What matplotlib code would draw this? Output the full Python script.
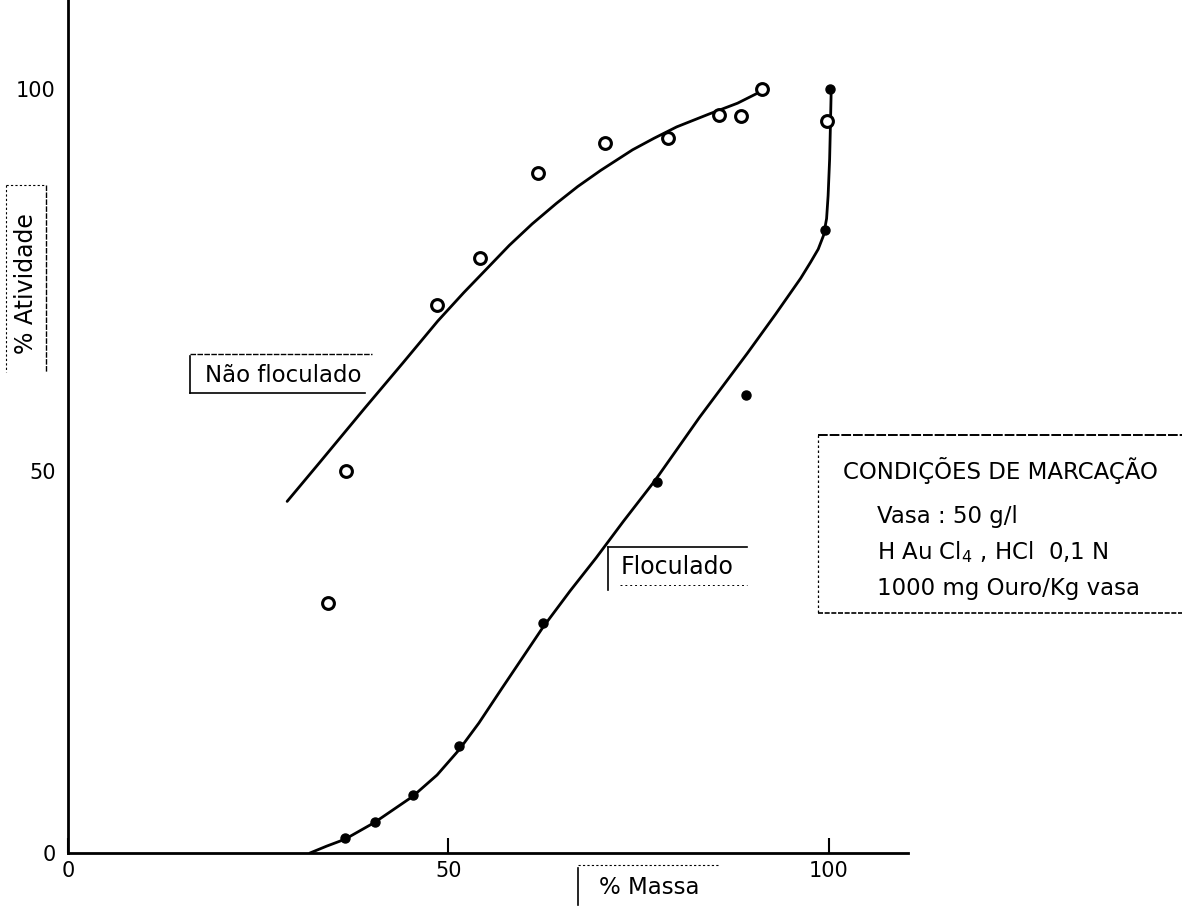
import matplotlib
matplotlib.use("Agg")
import matplotlib.pyplot as plt

# ---- data ----
nf_x = [34.2, 36.5, 48.5, 54.1, 61.8, 70.6, 78.9, 85.5, 88.4, 91.2, 99.7]
nf_y = [32.7, 50.0, 71.7, 77.9, 89.0, 92.9, 93.6, 96.5, 96.4, 100.0, 95.8]

fl_x = [36.4, 40.3, 45.3, 51.4, 62.4, 77.4, 89.1, 99.5, 100.1]
fl_y = [2.0, 4.1, 7.6, 14.0, 30.1, 48.6, 59.9, 81.5, 100.0]

nf_curve_x = [28.8, 33.0, 39.0, 44.0, 48.6, 52.0, 55.1, 58.0, 61.0, 64.2, 67.0, 70.0, 74.2,
              77.0, 80.0, 84.3, 88.0, 91.0]
nf_curve_y = [46.0, 51.0, 58.2, 64.1, 69.6, 73.3, 76.5, 79.5, 82.3, 85.0, 87.2, 89.3, 92.0,
              93.5, 95.0, 96.7, 98.1, 99.6]

fl_curve_x = [31.8, 34.0, 36.4, 40.3, 45.3, 48.5, 51.4, 54.0, 57.0, 62.4, 66.0, 69.4, 73.0,
              77.2, 83.0, 89.3, 93.0, 96.3, 97.6, 98.6, 99.3, 99.7, 99.9, 100.1, 100.2, 100.3]
fl_curve_y = [0.0, 0.9, 1.8, 4.0, 7.4, 10.2, 13.5, 17.0, 21.5, 29.5, 34.3, 38.6, 43.4,
              48.8, 57.0, 65.4, 70.5, 75.2, 77.3, 79.0, 80.8, 83.0, 86.0, 90.8, 95.0, 99.5]

x_ticks = [0, 50, 100]
y_ticks = [0, 50, 100]
x_label = "% Massa"
y_label = "% Atividade"
nf_label = "Não floculado"
fl_label = "Floculado"
cond_title = "CONDIÇÕES DE MARCAÇÃO"
cond_lines = ["Vasa : 50 g/l", r"H Au Cl$_4$ , HCl  0,1 N", "1000 mg Ouro/Kg vasa"]

plt.rcParams['font.family'] = ['DejaVu Sans']
W, H = 1187, 908
fig = plt.figure(figsize=(W / 100, H / 100), dpi=100)
fig.patch.set_facecolor('white')

ax = fig.add_axes([68 / W, 55 / H, (908 - 68) / W, 853 / H])
ax.patch.set_alpha(0)
ax.set_xlim(0, 110.4)
ax.set_ylim(0, 111.6)
for s in ['top', 'right']:
    ax.spines[s].set_visible(False)
for s in ['left', 'bottom']:
    ax.spines[s].set_linewidth(2.0)
    ax.spines[s].set_color('black')

ax.set_xticks(x_ticks)
ax.set_xticklabels([str(v) for v in x_ticks], fontsize=15)
ax.set_yticks(y_ticks)
ax.set_yticklabels([str(v) for v in y_ticks], fontsize=15)
ax.tick_params(axis='x', direction='in', length=11, width=1.5, pad=6)
ax.tick_params(axis='y', length=0, pad=9)

ax.plot(nf_curve_x, nf_curve_y, color='black', lw=2.0, solid_capstyle='round', solid_joinstyle='round')
ax.plot(fl_curve_x, fl_curve_y, color='black', lw=2.0, solid_capstyle='round', solid_joinstyle='round')
ax.plot(nf_x, nf_y, linestyle='none', marker='o', ms=8.5, mfc='white', mec='black', mew=2.2)
ax.plot(fl_x, fl_y, linestyle='none', marker='o', ms=6.5, mfc='black', mec='black')

# ---- overlay for the annotation boxes (pixel coordinates) ----
ov = fig.add_axes([0, 0, 1, 1], zorder=5)
ov.set_xlim(0, W)
ov.set_ylim(H, 0)
ov.axis('off')

fs = 16.5

# % Massa
ov.text(599, 888, x_label, fontsize=fs, ha='left', va='center')
ov.plot([578, 578], [868, 905], color='black', lw=1.2)
ov.plot([578, 720], [865, 865], color='black', lw=0.8, ls=(0, (2, 2)))

# % Atividade
ov.text(26, 284, y_label, fontsize=17, rotation=90, ha='center', va='center')
ov.plot([6, 6], [185, 372], color='black', lw=0.8, ls=(0, (2, 2)))
ov.plot([46, 46], [185, 372], color='black', lw=1.0, ls=(0, (4, 1)))
ov.plot([6, 46], [185, 185], color='black', lw=0.8, ls=(0, (2, 2)))

# Não floculado
ov.text(205, 375, nf_label, fontsize=fs, ha='left', va='center')
ov.plot([190, 372], [354, 354], color='black', lw=1.0, ls=(0, (4, 1)))
ov.plot([190, 365], [393, 393], color='black', lw=1.2)
ov.plot([190, 190], [356, 393], color='black', lw=1.2)

# Floculado
ov.text(621, 567, fl_label, fontsize=17, ha='left', va='center')
ov.plot([608, 747], [547, 547], color='black', lw=1.2)
ov.plot([608, 608], [547, 590], color='black', lw=1.2)
ov.plot([620, 747], [585, 585], color='black', lw=0.7, ls=(0, (2, 3)))

# Conditions box
ov.plot([818, 1182], [435, 435], color='black', lw=1.4, ls=(0, (5, 1)))
ov.plot([818, 1182], [613, 613], color='black', lw=1.2, ls=(0, (3, 1)))
ov.plot([818, 818], [435, 613], color='black', lw=0.9, ls=(0, (2, 2)))
ov.text(843, 470, cond_title, fontsize=fs, ha='left', va='center')
for i, line in enumerate(cond_lines):
    ov.text(877, 517 + i * 35.5, line, fontsize=fs, ha='left', va='center')

fig.savefig('out.png', dpi=100, facecolor='white')
